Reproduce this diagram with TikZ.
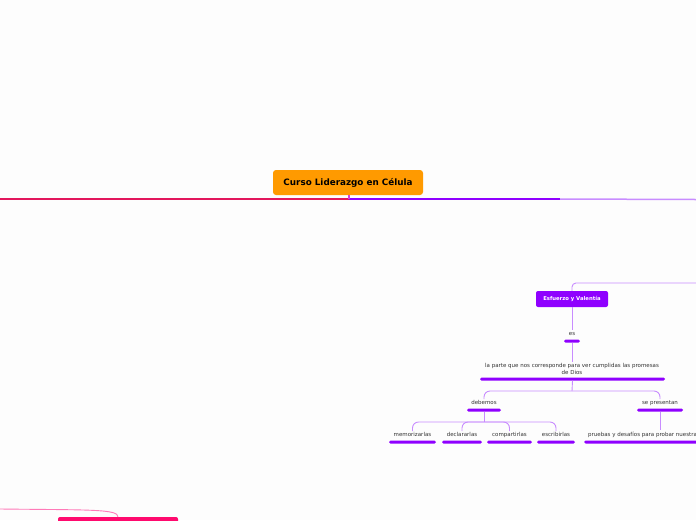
\documentclass[tikz,border=0pt]{standalone}
\usepackage{fontspec}
\setmainfont{DejaVu Sans}
\definecolor{bgc}{HTML}{FDFDFD}
\definecolor{orangec}{HTML}{FF9A00}
\definecolor{purpc}{HTML}{8F00FF}
\definecolor{purpl}{HTML}{C88CFF}
\definecolor{redc}{HTML}{E2165C}
\definecolor{stubc}{HTML}{D040E0}
\definecolor{pinkc}{HTML}{FF0A6E}
\definecolor{pinkl}{HTML}{FF7AB8}
\definecolor{txtc}{HTML}{333333}
\tikzset{
  mainbox/.style={fill=orangec, rounded corners=3pt, minimum width=150pt, minimum height=25pt, inner sep=0pt, font=\fontsize{8.8}{10}\selectfont\bfseries, text=black},
  purpbox/.style={fill=purpc, rounded corners=2pt, minimum width=72pt, minimum height=16pt, inner sep=0pt, font=\fontsize{5.3}{6}\selectfont\bfseries, text=white},
  pinkbox/.style={fill=pinkc, rounded corners=2pt, minimum width=120pt, minimum height=16pt, inner sep=0pt},
  lbl/.style={font=\fontsize{5.5}{7}\selectfont, text=txtc, inner sep=1pt, align=center},
  lbl1/.style={lbl, text height=4.2pt, text depth=1.3pt},
  bar/.style={fill=purpc, rounded corners=1.5pt, minimum height=3pt, inner sep=0pt},
  conn/.style={draw=purpl, line width=0.9pt},
  trunk/.style={line width=1.1pt},
}
\begin{document}
\begin{tikzpicture}[x=1pt,y=-1pt]
\fill[bgc] (0,0) rectangle (696,520);
\useasboundingbox (0,0) rectangle (696,520);

% root
\node[mainbox] (root) at (348,182.5) {Curso Liderazgo en Célula};
\coordinate (rootj) at (349,199);
\coordinate (leftend) at (0,199);
\coordinate (rmid) at (560,199);
\coordinate (rightend) at (696,199.5);
\draw[trunk, draw=redc] (rootj) -- (leftend);
\draw[trunk, draw=purpc] (rootj) -- (rmid);
\draw[draw=purpl, line width=1.5pt] (rmid) -- (rightend);
\draw[trunk, draw=stubc] (root.south -| rootj) -- (rootj);

% Esfuerzo y Valentia
\node[purpbox] (esf) at (572,299) {Esfuerzo y Valentía};
\coordinate (esfin) at (696,283);
\draw[conn, rounded corners=4pt] (esfin) -| (esf.north);

\node[lbl1] (es) at (572,334) {es};
\node[bar, minimum width=16pt] (esbar) at (572,341) {};
\draw[conn] (esf.south) -- (es.north);

\node[lbl] (parte) at (572,368.5) {la parte que nos corresponde para ver cumplidas las promesas\\de Dios};
\node[bar, minimum width=185pt] (partebar) at (572.5,379) {};
\draw[conn] (esbar.south) -- (parte.north);

\node[lbl1] (deb) at (484,403) {debemos};
\node[bar, minimum width=34pt] (debbar) at (484,410) {};
\node[lbl1] (sep) at (660,403) {se presentan};
\node[bar, minimum width=46pt] (sepbar) at (660,410) {};
\coordinate (j1) at (572,391);
\draw[conn] (partebar.south) -- (j1);
\draw[conn, rounded corners=6pt] (deb.north) |- (j1) -| (sep.north);

% children of debemos
\node[lbl1] (mem) at (412.5,435) {memorizarlas};
\node[bar, minimum width=47pt] (membar) at (412.5,442) {};
\node[lbl1] (dec) at (462,435) {declararlas};
\node[bar, minimum width=40pt] (decbar) at (462,442) {};
\node[lbl1] (comp) at (509.5,435) {compartirlas};
\node[bar, minimum width=45pt] (compbar) at (509.5,442) {};
\node[lbl1] (esc) at (556,435) {escribirlas};
\node[bar, minimum width=38pt] (escbar) at (556,442) {};
\coordinate (j2) at (484,422);
\draw[conn] (debbar.south) -- (j2);
\draw[conn, rounded corners=6pt] (mem.north) |- (j2) -| (esc.north);
\draw[conn, rounded corners=6pt] (dec.north) |- (j2) -| (comp.north);

% child of se presentan
\node[lbl1, anchor=west] (prue) at (587,435) {pruebas y desafíos para probar nuestra};
\node[bar, minimum width=120pt, anchor=west] (pruebar) at (584,442) {};
\coordinate (pruetop) at (660,430);
\draw[conn] (sepbar.south) -- (pruetop);

% bottom-left pink branch
\node[pinkbox] (pink) at (118,525) {};
\coordinate (pinkin) at (0,509);
\draw[pinkl, line width=0.9pt] (pinkin) .. controls (90,510) and (118,509) .. (pink.north);
\end{tikzpicture}
\end{document}
